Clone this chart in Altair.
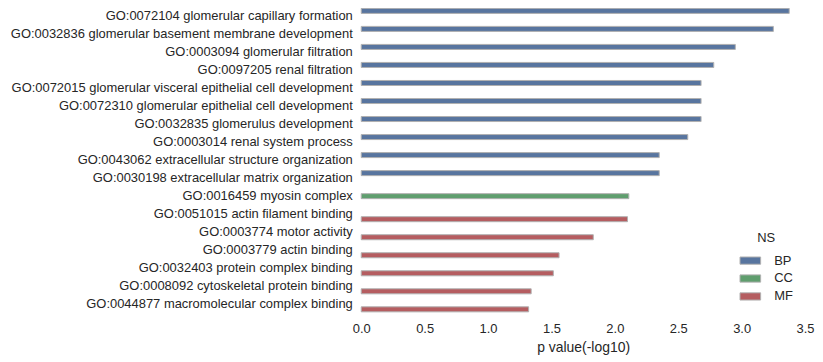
import altair as alt
import pandas as pd

terms = [
    "GO:0072104 glomerular capillary formation",
    "GO:0032836 glomerular basement membrane development",
    "GO:0003094 glomerular filtration",
    "GO:0097205 renal filtration",
    "GO:0072015 glomerular visceral epithelial cell development",
    "GO:0072310 glomerular epithelial cell development",
    "GO:0032835 glomerulus development",
    "GO:0003014 renal system process",
    "GO:0043062 extracellular structure organization",
    "GO:0030198 extracellular matrix organization",
    "GO:0016459 myosin complex",
    "GO:0051015 actin filament binding",
    "GO:0003774 motor activity",
    "GO:0003779 actin binding",
    "GO:0032403 protein complex binding",
    "GO:0008092 cytoskeletal protein binding",
    "GO:0044877 macromolecular complex binding",
]
ns = ["BP"] * 10 + ["CC"] + ["MF"] * 6
pvals = [3.375, 3.25, 2.95, 2.78, 2.68, 2.68, 2.68, 2.575, 2.35, 2.35,
         2.11, 2.10, 1.83, 1.56, 1.515, 1.34, 1.32]

df = pd.DataFrame({"term": terms, "NS": ns, "p": pvals})

font = "Liberation Sans"
txt = "#262626"

chart = alt.Chart(df).mark_bar(stroke="#b0b0b0", strokeWidth=1).encode(
    x=alt.X("p:Q", title="p value(-log10)",
            scale=alt.Scale(domain=[0, 3.5], nice=False),
            axis=alt.Axis(values=[0, 0.5, 1, 1.5, 2, 2.5, 3, 3.5], format=".1f",
                          grid=False, domain=False, ticks=False, labelFlush=False,
                          labelPadding=9, titlePadding=5)),
    y=alt.Y("term:N", sort=terms, title=None,
            scale=alt.Scale(paddingInner=0, paddingOuter=0),
            axis=alt.Axis(domain=False, ticks=False, grid=False, labelPadding=9,
                          labelLimit=500)),
    yOffset=alt.YOffset("NS:N", scale=alt.Scale(domain=["BP", "CC", "MF"],
                                                paddingInner=0, paddingOuter=0.3)),
    color=alt.Color("NS:N",
                    scale=alt.Scale(domain=["BP", "CC", "MF"],
                                    range=["#58759F", "#5F9E6E", "#B55D60"]),
                    legend=alt.Legend(title="NS", orient="none", legendX=380, legendY=226,
                                      titleAnchor="middle", titleAlign="center",
                                      titleFontSize=13, titleFontWeight="normal",
                                      titleColor=txt, titleFont=font,
                                      labelFontSize=13, labelColor=txt, labelFont=font,
                                      labelOffset=13,
                                      symbolType="M-1,-0.35L1,-0.35L1,0.35L-1,0.35Z",
                                      symbolSize=430, symbolStrokeColor="#b0b0b0",
                                      symbolStrokeWidth=1, symbolOpacity=1,
                                      rowPadding=0)),
).properties(
    width=446, height=308, background="white",
    padding={"left": 2, "top": -2, "right": 0, "bottom": 0}
).configure_view(
    stroke=None
).configure_axis(
    labelFont=font, titleFont=font, labelFontSize=13, titleFontSize=14,
    labelColor=txt, titleColor=txt, titleFontWeight="normal"
)

chart.save("out.html", embed_options={"renderer": "svg", "actions": False})
